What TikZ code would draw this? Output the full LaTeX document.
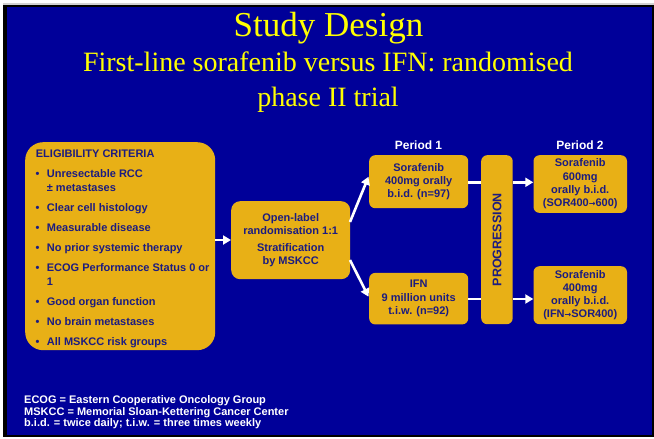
\documentclass[tikz,border=0pt]{standalone}
\usepackage{fontspec}
\setmainfont{Liberation Serif}
\newfontfamily\arialf{Liberation Sans}
\usetikzlibrary{arrows.meta}
\definecolor{bgblue}{RGB}{0,0,153}
\definecolor{gold}{RGB}{232,176,22}
\definecolor{navy}{RGB}{28,28,128}
\definecolor{ttlyellow}{RGB}{255,255,0}
\begin{document}
\begin{tikzpicture}[x=1pt,y=-1pt,
  box/.style={fill=gold, rounded corners=6pt, inner sep=0pt, text=navy, align=center,
    font=\arialf\bfseries\fontsize{11}{13.3}\selectfont},
  wline/.style={draw=white, line width=2.6pt},
  warrow/.style={wline, -{Triangle[length=8pt,width=9pt]}},
  hdr/.style={anchor=base, text=white, inner sep=0pt, font=\arialf\bfseries\fontsize{12}{14}\selectfont},
  itm/.style={anchor=base west, text=navy, inner sep=0pt, font=\arialf\bfseries\fontsize{11}{14}\selectfont},
  ttl/.style={anchor=base, text=ttlyellow, inner sep=0pt},
  foot/.style={anchor=base west, text=white, inner sep=0pt, align=left, font=\arialf\bfseries\fontsize{11}{11.7}\selectfont},
]
\useasboundingbox (0,0) rectangle (654,439);
\fill[white] (0,0) rectangle (654,439);
\fill[gray!35] (3,3.3) rectangle (654,4.7);
\fill[black] (3,4.7) rectangle (654,437.3);
\fill[bgblue] (7,7.3) rectangle (651.7,435);

% titles
\node[ttl, font=\fontsize{35}{40}\selectfont] (title) at (328.5,36) {Study Design};
\node[ttl, font=\fontsize{28}{33}\selectfont] (sub1) at (328,71.7) {First-line sorafenib versus IFN: randomised};
\node[ttl, font=\fontsize{28}{33}\selectfont] (sub2) at (328,106) {phase II trial};

% eligibility box
\node[box, rounded corners=18pt, minimum width=190pt, minimum height=208pt, anchor=north west] (elig) at (25,142) {};
\node[itm] (eh) at (35.7,157.7) {ELIGIBILITY CRITERIA};
\foreach \yy/\txt [count=\i] in {177.7/Unresectable RCC, 211/Clear cell histology, 231/Measurable disease,
   251/No prior systemic therapy, 271.7/ECOG Performance Status 0 or, 305/Good organ function,
   325/No brain metastases, 345.7/All MSKCC risk groups}{
  \node[itm] (b\i) at (35.5,\yy) {•};
  \node[itm] (t\i) at (46.7,\yy) {\txt};
}
\node[itm] (t1b) at (46.7,191) {± metastases};
\node[itm] (t5b) at (46.7,285) {1};

% randomisation box
\node[box, rounded corners=9pt, minimum width=119pt, minimum height=78pt, anchor=north west] (rand) at (231,201)
  {Open-label\\ randomisation 1:1\\[3.3pt] Stratification\\ by MSKCC};

% period 1
\node[hdr] (p1) at (418.5,149.3) {Period 1};
\node[box, minimum width=99pt, minimum height=53pt, anchor=north west] (sor1) at (369,155)
  {Sorafenib\\ 400mg orally\\ b.i.d. (n=97)};
\node[box, minimum width=99pt, minimum height=51.5pt, anchor=north west] (ifn) at (369,272.7)
  {IFN\\ 9 million units\\ t.i.w. (n=92)};

% progression
\node[box, minimum width=31.5pt, minimum height=169pt, anchor=north west] (prog) at (481,155) {};
\node[text=navy, rotate=90, inner sep=0pt, font=\arialf\bfseries\fontsize{12.5}{14}\selectfont] (progt) at (prog.center) {PROGRESSION};

% period 2
\node[hdr] (p2) at (580,149.3) {Period 2};
\node[box, minimum width=93.5pt, minimum height=57.7pt, anchor=north west] (sor2) at (533.3,155)
  {Sorafenib\\ 600mg\\ orally b.i.d.\\ (SOR400{\fontspec{DejaVu Sans}\fontsize{8}{10}\selectfont →}600)};
\node[box, minimum width=93.5pt, minimum height=58pt, anchor=north west] (sor3) at (533.3,266)
  {Sorafenib\\ 400mg\\ orally b.i.d.\\ (IFN{\fontspec{DejaVu Sans}\fontsize{8}{10}\selectfont →}SOR400)};

% connectors
\coordinate (r1) at (350,222);
\coordinate (r2) at (350,260);
\coordinate (s1in) at (368.5,176.7);
\coordinate (i1in) at (368.5,296.7);
\draw[warrow] (elig.east |- 0,240) -- (rand.west |- 0,240);
\draw[warrow] (r1) -- (s1in);
\draw[warrow] (r2) -- (i1in);
\draw[wline] (sor1.east |- 0,182.3) -- (prog.west |- 0,182.3);
\draw[wline] (ifn.east |- 0,299) -- (prog.west |- 0,299);
\draw[warrow] (prog.east |- 0,182.3) -- (sor2.west |- 0,182.3);
\draw[warrow] (prog.east |- 0,299) -- (sor3.west |- 0,299);

% footnotes
\node[foot] (f1) at (24,403.5) {ECOG = Eastern Cooperative Oncology Group};
\node[foot] (f2) at (24,415.2) {MSKCC = Memorial Sloan-Kettering Cancer Center};
\node[foot] (f3) at (24,426.9) {b.i.d. = twice daily; t.i.w. = three times weekly};
\end{tikzpicture}
\end{document}
